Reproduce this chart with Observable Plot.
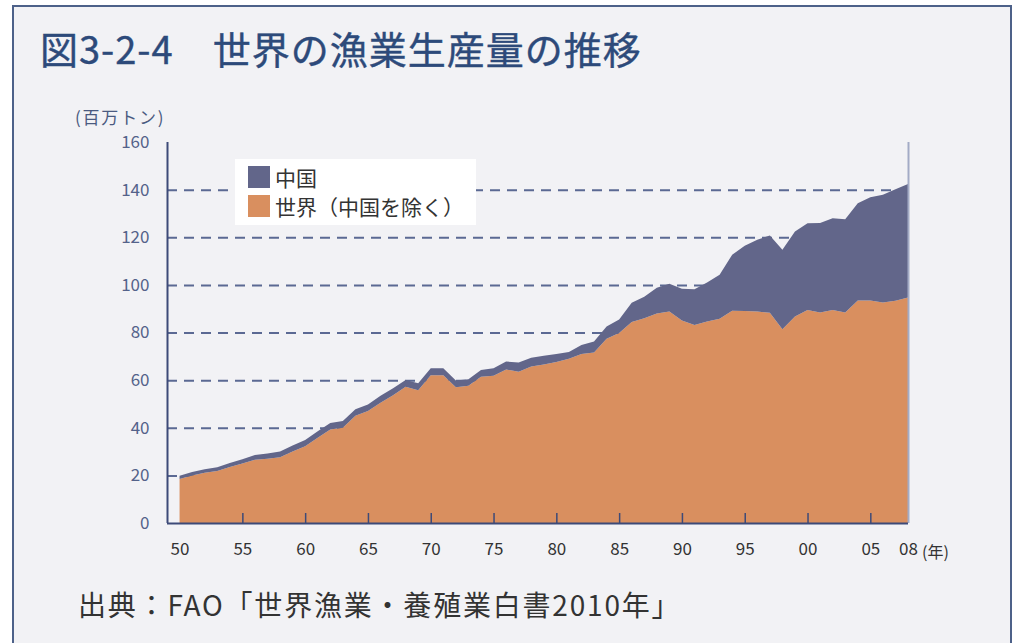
<!DOCTYPE html>
<html>
<head>
<meta charset="utf-8">
<script src="https://cdn.jsdelivr.net/npm/d3@7"></script>
<script src="https://cdn.jsdelivr.net/npm/@observablehq/plot@0.6"></script>
<style>
  html, body { margin: 0; padding: 0; background: #ffffff; }
  body { width: 1019px; height: 643px; overflow: hidden; font-family: "Noto Sans CJK JP", "Noto Sans", sans-serif; }
  #wrap { position: relative; width: 1019px; height: 643px; }
  #panel { position: absolute; left: 12px; top: 5px; width: 996px; height: 660px; background: #f2f2f5;
           border: 2px solid #4d6189; border-bottom: none; }
  #title { position: absolute; left: 40px; top: 20px; font-size: 38px; color: #2d4a7a; font-weight: normal; white-space: pre; letter-spacing: 1px; -webkit-text-stroke: 0.4px #2d4a7a; }
  #ylabel { position: absolute; left: 75px; top: 104px; font-size: 17px; color: #4a5a80; white-space: pre; letter-spacing: 1.8px; }
  #plot { position: absolute; left: 0; top: 100px; }
  #nen { position: absolute; left: 922px; top: 539px; font-size: 16px; color: #333; white-space: pre; }
  #legend { position: absolute; left: 235px; top: 159px; width: 241px; height: 66px; background: #ffffff; }
  .li { position: absolute; left: 13px; height: 22px; display: flex; align-items: center; font-size: 21px; color: #333; white-space: pre; }
  .sw { width: 22px; height: 22px; margin-right: 5px; }
  #caption { position: absolute; left: 78px; top: 584px; font-size: 28px; color: #333; white-space: pre; letter-spacing: 1.8px; }
</style>
</head>
<body>
<div id="wrap">
  <div id="panel"></div>
  <div id="title">図3-2-4　世界の漁業生産量の推移</div>
  <div id="ylabel">(百万トン)</div>
  <div id="plot"></div>
  <div id="nen">(年)</div>
  <div id="legend"></div>
  <div id="caption">出典：FAO「世界漁業・養殖業白書2010年」</div>
</div>
<script>
// ---- data (million tonnes) ----
const years = [1950,1951,1952,1953,1954,1955,1956,1957,1958,1959,
               1960,1961,1962,1963,1964,1965,1966,1967,1968,1969,
               1970,1971,1972,1973,1974,1975,1976,1977,1978,1979,
               1980,1981,1982,1983,1984,1985,1986,1987,1988,1989,
               1990,1991,1992,1993,1994,1995,1996,1997,1998,1999,
               2000,2001,2002,2003,2004,2005,2006,2007,2008];
// World excluding China
const worldExChina = [18.5,20.0,21.1,21.8,23.5,25.0,26.6,27.0,27.6,30.0,
                      32.2,35.8,39.3,40.0,45.0,47.0,50.5,53.7,57.2,55.8,
                      62.0,62.0,57.0,57.6,61.4,61.8,64.5,63.5,65.7,66.6,
                      67.6,69.0,71.0,71.6,77.4,79.8,84.4,86.0,88.0,88.8,
                      85.0,83.2,84.6,85.8,89.1,89.0,88.8,88.3,81.4,86.7,
                      89.5,88.4,89.5,88.4,93.4,93.4,92.6,93.3,94.7];
// China
const china = [1.3,1.4,1.5,1.6,1.7,1.8,2.0,2.2,2.4,2.5,
               2.7,2.7,2.7,2.8,2.8,2.8,2.9,2.9,2.9,2.9,
               3.0,3.0,2.8,2.8,2.9,3.2,3.3,3.9,3.7,3.6,
               3.4,2.8,3.8,4.6,5.1,5.7,8.1,9.0,10.8,11.7,
               13.4,15.0,16.4,18.4,23.5,27.4,30.2,32.4,33.3,35.7,
               36.4,37.6,38.5,39.2,40.9,43.4,45.2,46.9,47.7];
const seriesNames = ["世界（中国を除く）", "中国"];
const seriesColors = ["#d98f5f", "#62668a"];
const yTicks = [0,20,40,60,80,100,120,140,160];
const gridValues = [20,40,60,80,100,120,140];
const xTickYears = [1950,1955,1960,1965,1970,1975,1980,1985,1990,1995,2000,2005,2008];
const xTickMarks = [1955,1960,1965,1970,1975,1980,1985,1990,1995,2000,2005];
const legendNames = ["中国", "世界（中国を除く）"];
const legendColors = ["#62668a", "#d98f5f"];

const rows = [];
years.forEach((yr, i) => {
  rows.push({year: yr, series: seriesNames[0], value: worldExChina[i]});
  rows.push({year: yr, series: seriesNames[1], value: china[i]});
});

const W = 1019, H = 470;
const mTop = 42, mBottom = 47;
const chart = Plot.plot({
  width: W, height: H,
  marginLeft: 167, marginRight: 111, marginTop: mTop, marginBottom: mBottom,
  style: {background: "transparent", fontFamily: "'Noto Sans CJK JP', 'Noto Sans', sans-serif", overflow: "visible"},
  x: {type: "linear", domain: [1949, 2008]},
  y: {domain: [0, 160]},
  color: {domain: seriesNames, range: seriesColors},
  marks: [
    Plot.gridY(gridValues, {stroke: "#4a5a88", strokeOpacity: 0.9, strokeWidth: 2, strokeDasharray: "10,7"}),
    Plot.areaY(rows, {x: "year", y: "value", fill: "series", order: seriesNames}),
    Plot.ruleX(xTickMarks, {stroke: "#3d4a78", strokeWidth: 1.5, insetTop: (H - mTop - mBottom) - 10}),
    Plot.ruleX([2008], {stroke: "#a3abc6", strokeWidth: 2}),
    Plot.ruleX([1949], {stroke: "#3d4a78", strokeWidth: 2}),
    Plot.ruleY([0], {stroke: "#3d4a78", strokeWidth: 2}),
    Plot.axisY({ticks: yTicks, tickSize: 0, tickPadding: 18, fontSize: 17, color: "#54628a", label: null}),
    Plot.axisX({ticks: xTickYears, tickSize: 0, tickPadding: 19, fontSize: 17, color: "#333",
                tickFormat: d => String(d % 100).padStart(2, "0"), label: null})
  ]
});
document.getElementById("plot").appendChild(chart);

// legend
const lg = document.getElementById("legend");
legendNames.forEach((n, i) => {
  const item = document.createElement("div");
  item.className = "li";
  item.style.top = (7 + i * 29) + "px";
  const sw = document.createElement("span");
  sw.className = "sw";
  sw.style.background = legendColors[i];
  const tx = document.createElement("span");
  tx.textContent = n;
  item.appendChild(sw);
  item.appendChild(tx);
  lg.appendChild(item);
});
</script>
</body>
</html>
